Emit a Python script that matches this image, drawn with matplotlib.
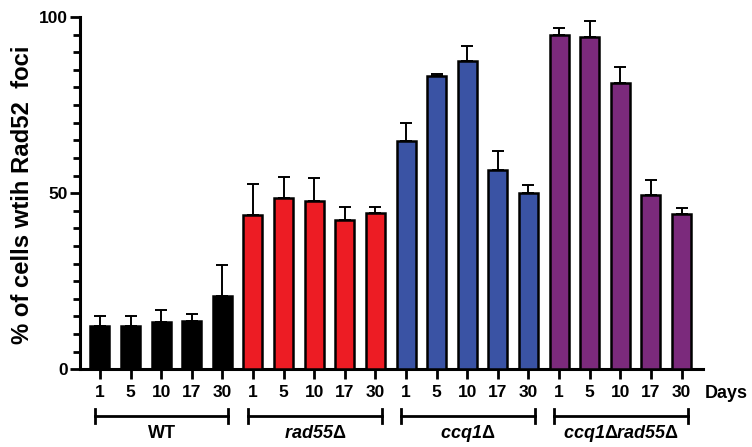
import numpy as np
import matplotlib
matplotlib.use("Agg")
import matplotlib.pyplot as plt
from matplotlib.ticker import MultipleLocator
import matplotlib.transforms as mtransforms

plt.rcParams['font.family'] = ['Liberation Sans', 'DejaVu Sans']
plt.rcParams['font.weight'] = 'bold'
# group labels: bold italic name, thin upright delta
plt.rcParams['mathtext.fontset'] = 'custom'
plt.rcParams['mathtext.it'] = 'Liberation Sans:italic:bold'
plt.rcParams['mathtext.rm'] = 'Liberation Sans:italic:bold'
plt.rcParams['mathtext.sf'] = 'Liberation Sans'

# data
days = ["1", "5", "10", "17", "30"]
groups = ["WT", r"$\mathit{rad55}\mathsf{\Delta}$", r"$\mathit{ccq1}\mathsf{\Delta}$",
          r"$\mathit{ccq1}\mathsf{\Delta}\mathit{rad55}\mathsf{\Delta}$"]
colors = ["#000000", "#ED1C24", "#3A53A4", "#7B2A7C"]

wt_mean = [12.3, 12.4, 13.3, 13.8, 20.9]
wt_err = [2.7, 2.6, 3.6, 2.0, 8.6]
rad55_mean = [43.8, 48.7, 47.8, 42.5, 44.4]
rad55_err = [8.9, 6.0, 6.6, 3.6, 1.6]
ccq1_mean = [64.9, 83.3, 87.6, 56.6, 50.0]
ccq1_err = [4.9, 0.6, 4.3, 5.5, 2.2]
double_mean = [94.8, 94.4, 81.2, 49.6, 44.2]
double_err = [2.0, 4.6, 4.5, 4.2, 1.5]

means = [wt_mean, rad55_mean, ccq1_mean, double_mean]
errs = [wt_err, rad55_err, ccq1_err, double_err]

fig = plt.figure(figsize=(7.52, 4.47), dpi=100)
ax = fig.add_axes([80 / 752, 1 - 369.3 / 447, 623 / 752, 352.3 / 447])

n = len(days)
for g in range(len(groups)):
    x = np.arange(n) + g * n
    ax.bar(x, means[g], width=0.62, color=colors[g], edgecolor="black",
           linewidth=1.8, zorder=3)
    ax.errorbar(x, means[g], yerr=[np.zeros(n), errs[g]], fmt="none",
                ecolor="black", elinewidth=1.4, capsize=4.3, capthick=1.4,
                zorder=2)

ax.set_xlim(-0.65, 19.7)
ax.set_ylim(0, 100)

ax.spines['top'].set_visible(False)
ax.spines['right'].set_visible(False)
ax.spines['left'].set_linewidth(2.2)
ax.spines['bottom'].set_linewidth(2.2)

ax.set_xticks(np.arange(n * len(groups)))
ax.set_xticklabels(days * len(groups), fontsize=12.5, fontweight='bold')
ax.set_yticks([0, 50, 100])
ax.set_yticklabels(["0", "50", "100"], fontsize=12.5, fontweight='bold')
ax.yaxis.set_minor_locator(MultipleLocator(5))
ax.tick_params(axis='x', direction='out', length=7, width=2.0, pad=4)
ax.tick_params(axis='y', which='major', direction='out', length=7.5, width=2.0, pad=1)
ax.tick_params(axis='y', which='minor', direction='out', length=5, width=2.0)

ax.set_ylabel("% of cells wtih Rad52  foci", fontsize=17.2, fontweight='bold',
              va='center')
ax.yaxis.set_label_coords(-0.092, 0.496)

fig.text(705 / 752, 1 - 393 / 447, "Days", fontsize=13, fontweight='bold',
         ha='left', va='center')

# group brackets under the tick labels
trans = mtransforms.blended_transform_factory(ax.transData, ax.transAxes)
yb = -0.133
cap = 0.02
for g in range(len(groups)):
    x0 = g * n - 0.16
    x1 = g * n + n - 1 + 0.2
    ax.plot([x0, x1], [yb, yb], color="black", lw=2.0, transform=trans, clip_on=False)
    ax.plot([x0, x0], [yb - cap, yb + cap], color="black", lw=2.0, transform=trans, clip_on=False)
    ax.plot([x1, x1], [yb - cap, yb + cap], color="black", lw=2.0, transform=trans, clip_on=False)
    ax.text((x0 + x1) / 2, -0.181, groups[g], transform=trans, ha='center', va='center',
            fontsize=13, fontweight='bold')

fig.savefig("out.png", dpi=100)
